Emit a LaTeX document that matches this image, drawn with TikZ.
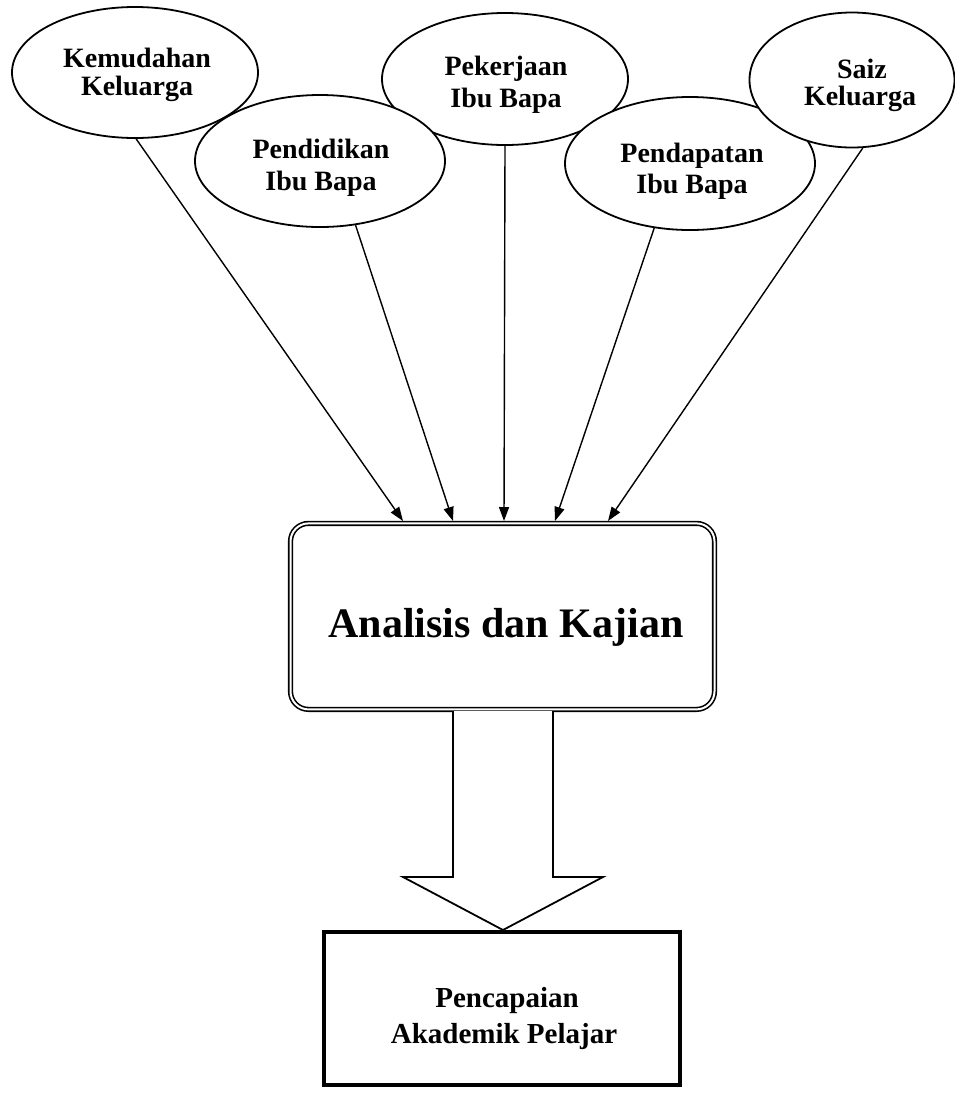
\documentclass[tikz,border=0pt]{standalone}
\usepackage{fontspec}
\setmainfont{Liberation Serif}
\usetikzlibrary{arrows.meta,shapes.geometric}
\begin{document}
\begin{tikzpicture}[x=1pt,y=-1pt,
  factor/.style={ellipse,draw,line width=1.8pt,fill=white,inner sep=0pt},
  lbl/.style={anchor=base,inner sep=0pt,font=\fontsize{28}{31}\selectfont\bfseries},
  biglbl/.style={anchor=base,inner sep=0pt,font=\fontsize{29}{34}\selectfont\bfseries},
  conn/.style={line width=1.4pt,-{Triangle[length=14pt,width=10pt]}},
]
\useasboundingbox (0,0) rectangle (955,1096);
% factor ellipses (drawn in stacking order)
\node[factor,minimum width=246pt,minimum height=131pt] (E1) at (135,72.5) {};
\node[factor,minimum width=246pt,minimum height=132pt] (E3) at (505,79) {};
\node[factor,minimum width=250pt,minimum height=132pt] (E2) at (320,161) {};
\node[factor,minimum width=250pt,minimum height=133pt] (E4) at (690,163.5) {};
\node[factor,minimum width=205pt,minimum height=135pt] (E5) at (852,80) {};
% labels
\node[lbl] (L1a) at (137,67) {Kemudahan};
\node[lbl] (L1b) at (137,95) {Keluarga};
\node[lbl] (L2a) at (321,158) {Pendidikan};
\node[lbl] (L2b) at (321,190) {Ibu Bapa};
\node[lbl] (L3a) at (506,75) {Pekerjaan};
\node[lbl] (L3b) at (506,107) {Ibu Bapa};
\node[lbl] (L4a) at (692,162) {Pendapatan};
\node[lbl] (L4b) at (692,193) {Ibu Bapa};
\node[lbl] (L5a) at (862,78) {Saiz};
\node[lbl] (L5b) at (860,105) {Keluarga};
% analysis box
\node[draw,double,line width=1.6pt,double distance=2pt,rounded corners=18pt,
      minimum width=424pt,minimum height=186pt,inner sep=0pt] (B) at (502.5,616.4) {};
\node[anchor=base,inner sep=0pt,font=\fontsize{42}{48}\selectfont\bfseries] (BT) at (506,637) {Analisis dan Kajian};
% arrow targets on the box top
\coordinate (t1) at (403,521);
\coordinate (t2) at (453,521);
\coordinate (t3) at (504,521);
\coordinate (t4) at (555,521);
\coordinate (t5) at (608,521);
\draw[conn] (E1.-89) -- (t1);
\draw[conn] (E2.-61) -- (t2);
\draw[conn] (E3.south) -- (t3);
\draw[conn] (E4.-119) -- (t4);
\draw[conn] (E5.-81) -- (t5);
% result box
\node[draw,line width=4.5pt,minimum width=356pt,minimum height=153pt,inner sep=0pt] (P) at (502,1008.5) {};
\node[biglbl] (P1) at (507,1007) {Pencapaian};
\node[biglbl] (P2) at (504,1043) {Akademik Pelajar};
% block arrow
\draw[line width=1.8pt,line join=miter,fill=white]
  (453,711) -- (453,877) -- (403,877) -- (503,930) -- (603,877) -- (553,877) -- (553,711);
\end{tikzpicture}
\end{document}
